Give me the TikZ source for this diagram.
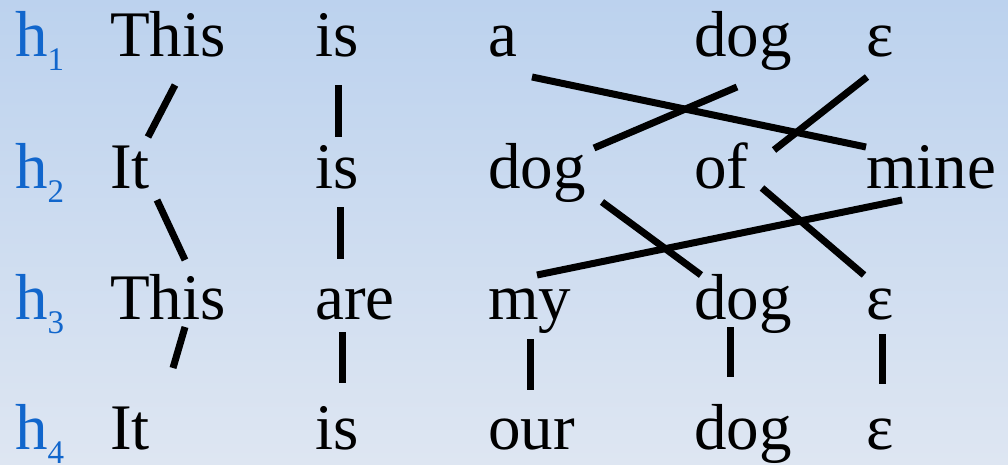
\documentclass[tikz,border=0pt]{standalone}
\usepackage{fontspec}
\setmainfont{DejaVu Serif}
\newfontfamily\libserif{Liberation Serif}
\usepackage{xcolor}
\usetikzlibrary{positioning, calc, backgrounds}

\definecolor{bgtop}{RGB}{188,210,238}
\definecolor{bgbottom}{RGB}{222,230,242}
\definecolor{hblue}{RGB}{17,102,204}

\pgfdeclarelayer{canvas}
\pgfsetlayers{canvas,background,main}

\newcommand{\hyp}[1]{h{\fontsize{33}{33}\selectfont\raisebox{-14pt}{#1}}}

\begin{document}
\begin{tikzpicture}[
    x=1pt, y=1pt,
    every node/.style={font=\fontsize{65}{65}\selectfont\libserif},
    word/.style={anchor=base west, inner sep=0pt, text=black},
    hlabel/.style={anchor=base west, inner sep=0pt, text=hblue},
    link/.style={line width=7pt, black}
]

% Background
\begin{pgfonlayer}{canvas}
    \shade[top color=bgtop, bottom color=bgbottom] (0,0) rectangle (1008,-464);
\end{pgfonlayer}
\useasboundingbox (0,0) rectangle (1008,-464);

% Hypothesis labels
\node (h1) [hlabel] at (15,-56) {\hyp{1}};
\node (h2) [hlabel] at (15,-188) {\hyp{2}};
\node (h3) [hlabel] at (15,-319) {\hyp{3}};
\node (h4) [hlabel] at (15,-449) {\hyp{4}};

% Row 1
\node (this1) [word] at (110,-56) {This};
\node (is1) [word] at (315,-56) {is};
\node (a1) [word] at (488,-56) {a};
\node (dog1) [word] at (694,-56) {dog};
\node (eps1) [word] at (866,-56) {ε};

% Row 2
\node (it2) [word] at (110,-188) {It};
\node (is2) [word] at (315,-188) {is};
\node (dog2) [word] at (488,-188) {dog};
\node (of2) [word] at (694,-188) {of};
\node (mine2) [word] at (866,-188) {mine};

% Row 3
\node (this3) [word] at (110,-319) {This};
\node (are3) [word] at (315,-319) {are};
\node (my3) [word] at (488,-319) {my};
\node (dog3) [word] at (694,-319) {dog};
\node (eps3) [word] at (866,-319) {ε};

% Row 4
\node (it4) [word] at (110,-449) {It};
\node (is4) [word] at (315,-449) {is};
\node (our4) [word] at (488,-449) {our};
\node (dog4) [word] at (694,-449) {dog};
\node (eps4) [word] at (866,-449) {ε};

\begin{scope}[on background layer]
% Alignments h1 - h2
\draw [link] ([shift={(65,-29)}]this1.base west) -- ([shift={(38,51)}]it2.base west);
\draw [link] ([shift={(23,-29)}]is1.base west) -- ([shift={(23,51)}]is2.base west);
\draw [link] ([shift={(44,-21)}]a1.base west) -- ([shift={(0,41)}]mine2.base west);
\draw [link] ([shift={(43,-31)}]dog1.base west) -- ([shift={(106,40)}]dog2.base west);
\draw [link] ([shift={(1,-21)}]eps1.base west) -- ([shift={(80,38)}]of2.base west);

% Alignments h2 - h3
\draw [link] ([shift={(47,-12)}]it2.base west) -- ([shift={(75,59)}]this3.base west);
\draw [link] ([shift={(25,-19)}]is2.base west) -- ([shift={(25,60)}]are3.base west);
\draw [link] ([shift={(114,-14)}]dog2.base west) -- ([shift={(7,44)}]dog3.base west);
\draw [link] ([shift={(68,0)}]of2.base west) -- ([shift={(-2,44)}]eps3.base west);
\draw [link] ([shift={(36,-12)}]mine2.base west) -- ([shift={(49,44)}]my3.base west);

% Alignments h3 - h4
\draw [link] ([shift={(75,-8)}]this3.base west) -- ([shift={(63,81)}]it4.base west);
\draw [link] ([shift={(27,-13)}]are3.base west) -- ([shift={(27,66)}]is4.base west);
\draw [link] ([shift={(42,-20)}]my3.base west) -- ([shift={(42,59)}]our4.base west);
\draw [link] ([shift={(36,-8)}]dog3.base west) -- ([shift={(36,72)}]dog4.base west);
\draw [link] ([shift={(16,-15)}]eps3.base west) -- ([shift={(16,65)}]eps4.base west);
\end{scope}

\end{tikzpicture}
\end{document}
